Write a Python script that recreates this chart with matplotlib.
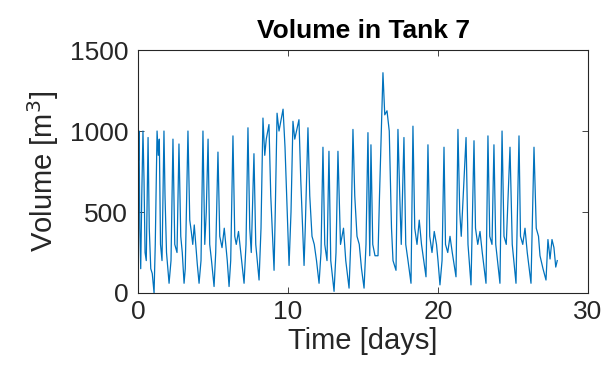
import matplotlib
matplotlib.use("Agg")
import matplotlib.pyplot as plt

# turning points of the volume series (days, m^3)
time_days = [
    0.00, 0.03, 0.07, 0.12, 0.18, 0.25, 0.33, 0.40, 0.47, 0.55, 0.67, 0.75, 0.85, 0.95, 1.07,
    1.15, 1.27, 1.35, 1.42, 1.50, 1.60, 1.73, 1.80, 1.90, 2.07,
    2.20, 2.33, 2.45, 2.60, 2.73, 2.85, 2.95, 3.07,
    3.15, 3.33, 3.45, 3.55, 3.65, 3.75, 3.85, 3.95, 4.07,
    4.20, 4.33, 4.45, 4.55, 4.67, 4.78, 4.90, 5.07,
    5.18, 5.33, 5.45, 5.60, 5.75, 5.85, 5.95, 6.07,
    6.18, 6.33, 6.45, 6.55, 6.70, 6.85, 7.07,
    7.20, 7.33, 7.45, 7.55, 7.73, 7.85, 8.07,
    8.20, 8.33, 8.45, 8.55, 8.73, 8.85, 9.07,
    9.15, 9.27, 9.40, 9.67, 9.80, 10.07,
    10.20, 10.33, 10.45, 10.73, 10.85, 11.07,
    11.15, 11.33, 11.45, 11.60, 11.75, 11.90, 12.07,
    12.20, 12.33, 12.45, 12.60, 12.73, 12.85, 13.07,
    13.20, 13.33, 13.50, 13.70, 13.85, 14.07,
    14.20, 14.33, 14.45, 14.60, 14.75, 14.90, 15.07,
    15.20, 15.33, 15.45, 15.53, 15.65, 15.80, 16.00,
    16.10, 16.33, 16.45, 16.60, 16.75, 16.90, 17.00, 17.20,
    17.33, 17.45, 17.55, 17.73, 17.85, 18.00, 18.20,
    18.33, 18.45, 18.60, 18.75, 18.90, 19.05, 19.20,
    19.33, 19.45, 19.60, 19.75, 19.90, 20.00, 20.13,
    20.27, 20.40, 20.50, 20.65, 20.80, 20.95, 21.20,
    21.33, 21.45, 21.55, 21.87, 22.00, 22.20,
    22.40, 22.50, 22.65, 22.80, 22.95, 23.20,
    23.33, 23.45, 23.60, 23.73, 23.85, 24.13,
    24.27, 24.40, 24.55, 24.80, 24.95, 25.20,
    25.40, 25.50, 25.65, 25.80, 25.95, 26.20,
    26.40, 26.55, 26.70, 26.80, 27.00, 27.20,
    27.33, 27.47, 27.60, 27.73, 27.85, 27.95,
]
volume_m3 = [
    1250, 820, 1000, 400, 150, 600, 1000, 700, 250, 200, 960, 400, 150, 120, 0,
    300, 1000, 850, 950, 300, 200, 1000, 600, 250, 60,
    200, 950, 300, 250, 920, 350, 250, 60,
    150, 1000, 450, 380, 300, 420, 300, 180, 60,
    200, 1000, 300, 500, 950, 300, 200, 40,
    250, 870, 350, 280, 400, 300, 200, 40,
    200, 970, 350, 300, 380, 250, 60,
    300, 1020, 400, 250, 860, 300, 80,
    400, 1080, 850, 950, 1040, 600, 140,
    500, 1110, 1000, 1135, 900, 170,
    500, 1060, 950, 1070, 700, 170,
    400, 1020, 600, 350, 300, 200, 60,
    250, 900, 300, 200, 875, 200, 10,
    250, 875, 300, 400, 200, 30,
    350, 1010, 600, 350, 300, 150, 30,
    300, 990, 230, 915, 300, 230, 230,
    600, 1360, 1100, 1125, 1000, 400, 200, 140,
    1010, 600, 300, 960, 300, 200, 60,
    1030, 400, 300, 450, 300, 200, 100,
    915, 350, 250, 380, 300, 200, 50,
    200, 900, 300, 250, 350, 250, 100,
    1010, 500, 350, 960, 300, 50,
    940, 400, 300, 380, 250, 60,
    970, 350, 300, 915, 300, 60,
    1000, 350, 300, 900, 300, 60,
    970, 350, 300, 400, 250, 60,
    900, 400, 350, 230, 150, 80,
    330, 210, 330, 280, 160, 200,
]

plt.rcParams['font.family'] = ['Liberation Sans', 'DejaVu Sans']
fig = plt.figure(figsize=(6.04, 3.82), dpi=100)
ax = fig.add_axes([0.2285, 0.233, 0.745, 0.636])
ax.plot(time_days, volume_m3, color='#0072BD', linewidth=0.9)
ax.set_xlim(0, 30)
ax.set_ylim(0, 1500)
ax.set_xticks([0, 10, 20, 30])
ax.set_yticks([0, 500, 1000, 1500])
ax.tick_params(direction='in', top=True, right=True, labelsize=19, colors='#262626', length=4, width=0.6)
ax.tick_params(axis='y', pad=7)
ax.tick_params(axis='x', pad=5)
for s in ax.spines.values():
    s.set_color('#262626')
    s.set_linewidth(0.8)
ax.set_title('Volume in Tank 7', fontsize=19, fontweight='bold', pad=9)
ax.set_xlabel('Time [days]', fontsize=21, color='#262626', labelpad=2)
ax.set_ylabel('Volume [m$^3$]', fontsize=21, color='#262626', labelpad=6)

fig.savefig('out.png', dpi=100)
